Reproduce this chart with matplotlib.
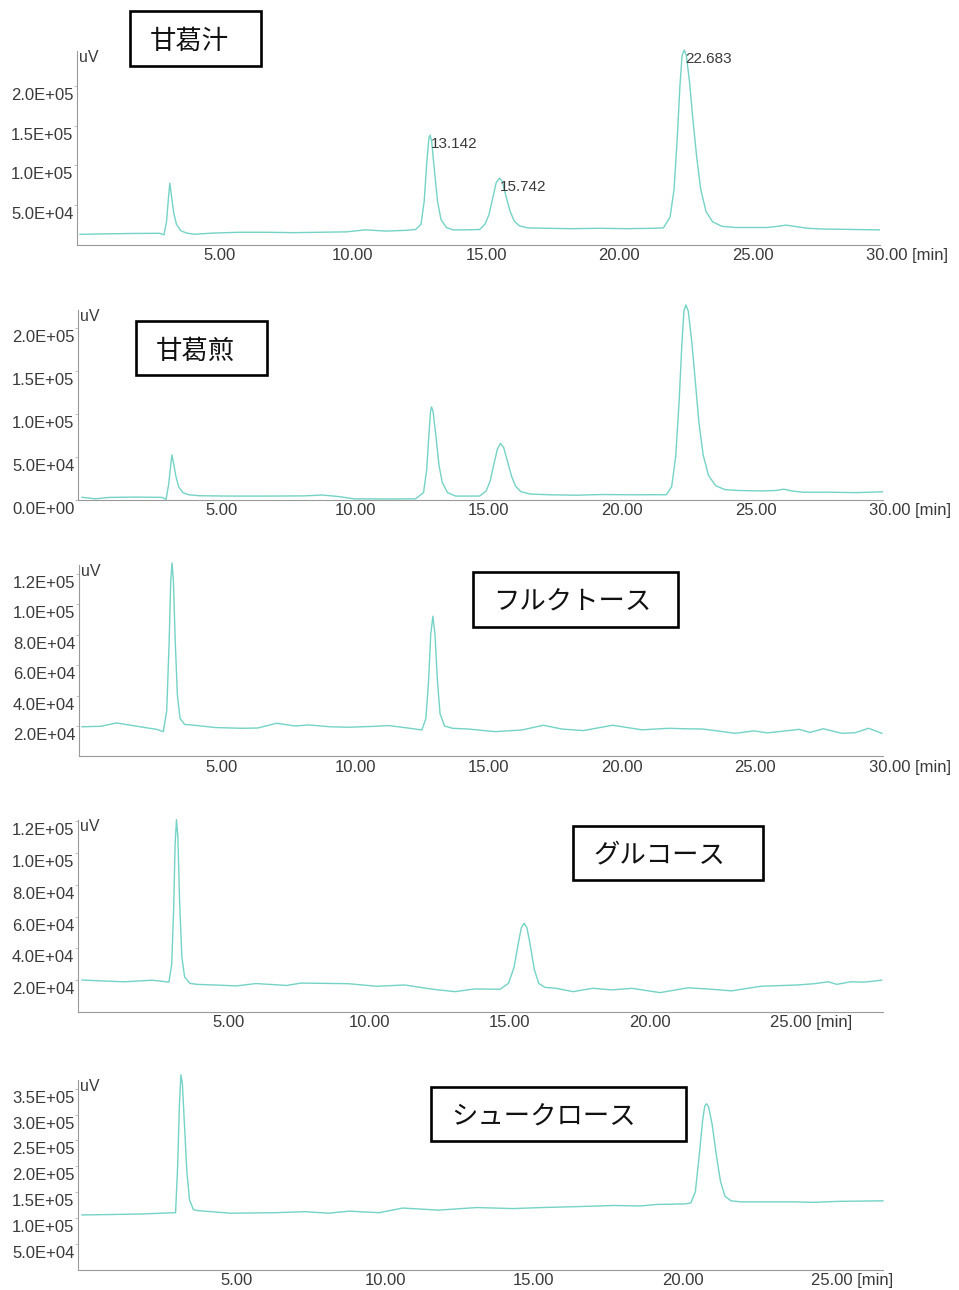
import matplotlib
matplotlib.use('Agg')
import matplotlib.pyplot as plt
from matplotlib.patches import Rectangle
from matplotlib.transforms import ScaledTranslation

plt.rcParams['font.family'] = ['Liberation Sans', 'Noto Sans CJK JP', 'DejaVu Sans']

# chromatogram traces: time [min], signal [uV]
juice_t = [0, 1.0, 2.0, 3.0, 3.15, 3.25, 3.31, 3.37, 3.44, 3.52, 3.62, 3.78, 4.0, 4.3, 5.0, 6.0, 7.0, 8.0, 9.0, 10.0,
           10.7, 11.5, 12.3, 12.6, 12.8, 12.92, 13.02, 13.1, 13.142, 13.2, 13.3, 13.42, 13.55, 13.75, 14.0, 14.5, 15.0, 15.2, 15.35, 15.5,
           15.62, 15.742, 15.85, 16.0, 16.15, 16.3, 16.5, 16.8, 17.5, 18.5, 19.5, 20.5, 21.5, 21.9, 22.15, 22.3, 22.42, 22.52, 22.6, 22.683,
           22.76, 22.88, 23.0, 23.15, 23.3, 23.5, 23.75, 24.1, 24.6, 25.3, 25.8, 26.2, 26.5, 26.8, 27.3, 28.0, 29.0, 30.0]
juice_uv = [1.34e4, 1.4e4, 1.45e4, 1.47e4, 1.26e4, 3.0e4, 5.5e4, 7.75e4, 6.0e4, 4.0e4, 2.6e4, 1.8e4, 1.5e4, 1.35e4, 1.5e4, 1.6e4, 1.6e4, 1.55e4, 1.6e4, 1.65e4,
            1.9e4, 1.75e4, 1.85e4, 1.95e4, 2.6e4, 5.5e4, 1.05e5, 1.35e5, 1.38e5, 1.3e5, 9.5e4, 5.5e4, 3.2e4, 2.2e4, 1.9e4, 1.9e4, 1.95e4, 2.6e4, 3.8e4, 6.0e4,
            7.8e4, 8.4e4, 8.0e4, 6.0e4, 4.2e4, 3.0e4, 2.4e4, 2.15e4, 2.1e4, 2.05e4, 2.1e4, 2.05e4, 2.1e4, 2.15e4, 3.5e4, 7.0e4, 1.35e5, 2.0e5, 2.38e5, 2.45e5,
            2.38e5, 2.05e5, 1.6e5, 1.1e5, 7.0e4, 4.2e4, 2.9e4, 2.35e4, 2.2e4, 2.2e4, 2.2e4, 2.35e4, 2.5e4, 2.35e4, 2.1e4, 2.0e4, 1.95e4, 1.9e4]
juice_peak_t = [13.142, 15.742, 22.683]
juice_peak_uv = [1.38e5, 8.4e4, 2.45e5]

syrup_t = [0, 0.5, 1.0, 2.0, 3.0, 3.15, 3.25, 3.31, 3.37, 3.44, 3.52, 3.62, 3.78, 4.0, 4.4, 5.5, 7.0, 8.3, 9.0, 9.6,
           10.2, 11.5, 12.5, 12.8, 12.92, 13.0, 13.06, 13.1, 13.16, 13.26, 13.38, 13.5, 13.7, 14.0, 14.9, 15.15, 15.3, 15.45, 15.57, 15.68,
           15.8, 15.95, 16.1, 16.25, 16.45, 16.8, 17.5, 18.5, 19.5, 20.5, 21.5, 21.9, 22.1, 22.25, 22.38, 22.48, 22.56, 22.63, 22.72, 22.85,
           22.98, 23.12, 23.28, 23.48, 23.75, 24.1, 24.6, 25.5, 26.0, 26.3, 26.6, 27.0, 28.0, 29.0, 30.0]
syrup_uv = [2.6e3, 0.8e3, 2.4e3, 2.8e3, 2.5e3, 0, 1.8e4, 3.6e4, 5.2e4, 4.1e4, 2.7e4, 1.5e4, 8e3, 5.5e3, 4.4e3, 4.0e3, 4.0e3, 4.2e3, 5.2e3, 3.5e3,
            0.8e3, 0.6e3, 0.8e3, 8e3, 3.5e4, 7.5e4, 1.02e5, 1.08e5, 1.02e5, 7.5e4, 4.0e4, 2.0e4, 8e3, 4e3, 4e3, 1.0e4, 2.2e4, 4.3e4, 5.9e4, 6.55e4,
            6.1e4, 4.4e4, 2.7e4, 1.55e4, 9e3, 6.4e3, 5.5e3, 5.0e3, 5.8e3, 5.5e3, 5.6e3, 5.5e3, 1.5e4, 5e4, 1.15e5, 1.8e5, 2.2e5, 2.27e5, 2.2e5, 1.85e5,
            1.4e5, 9e4, 5.2e4, 2.8e4, 1.6e4, 1.15e4, 1.05e4, 1.0e4, 1.05e4, 1.2e4, 1.0e4, 8.5e3, 8.5e3, 8e3, 9e3]

fru_t = [0, 0.7, 1.3, 2.0, 2.8, 3.05, 3.18, 3.27, 3.33, 3.38, 3.43, 3.5, 3.58, 3.68, 3.85, 4.1, 5.0, 6.0, 6.6, 7.3,
         8.0, 8.5, 9.3, 10.0, 11.0, 11.5, 12.3, 12.75, 12.9, 13.0, 13.08, 13.16, 13.24, 13.33, 13.43, 13.6, 13.9, 14.5, 15.5, 16.5,
         17.3, 18.0, 18.8, 19.9, 21.0, 22.0, 22.6, 23.3, 24.5, 25.2, 25.7, 26.3, 26.9, 27.3, 27.8, 28.5, 29.0, 29.5, 30.0]
fru_uv = [1.95e4, 1.98e4, 2.2e4, 2.0e4, 1.78e4, 1.63e4, 3.0e4, 7.5e4, 1.15e5, 1.27e5, 1.15e5, 7.5e4, 4.0e4, 2.5e4, 2.1e4, 2.07e4, 1.9e4, 1.85e4, 1.87e4, 2.18e4,
          2.0e4, 2.07e4, 1.95e4, 1.92e4, 1.98e4, 2.03e4, 1.85e4, 1.74e4, 2.5e4, 5.0e4, 8.0e4, 9.2e4, 8.0e4, 5.0e4, 2.8e4, 2.0e4, 1.85e4, 1.8e4, 1.63e4, 1.74e4,
          2.05e4, 1.8e4, 1.7e4, 2.05e4, 1.75e4, 1.85e4, 1.82e4, 1.8e4, 1.52e4, 1.68e4, 1.55e4, 1.66e4, 1.78e4, 1.58e4, 1.82e4, 1.52e4, 1.56e4, 1.85e4, 1.52e4]

glu_t = [0, 0.8, 1.5, 2.5, 3.1, 3.2, 3.27, 3.32, 3.37, 3.42, 3.48, 3.56, 3.66, 3.85, 4.1, 5.0, 5.5, 6.2, 7.3, 7.8,
         8.7, 9.5, 10.5, 11.5, 12.5, 13.3, 14.0, 14.9, 15.2, 15.4, 15.55, 15.66, 15.76, 15.86, 15.98, 16.12, 16.28, 16.5, 16.9, 17.5,
         18.2, 18.9, 19.6, 20.6, 21.6, 22.3, 23.15, 24.2, 25.5, 26.1, 26.6, 26.9, 27.4, 27.9, 28.5]
glu_uv = [2.01e4, 1.95e4, 1.9e4, 2.0e4, 1.88e4, 3.0e4, 6.5e4, 1.05e5, 1.21e5, 1.1e5, 7.0e4, 3.5e4, 2.2e4, 1.8e4, 1.74e4, 1.68e4, 1.64e4, 1.79e4, 1.67e4, 1.82e4,
          1.8e4, 1.78e4, 1.62e4, 1.7e4, 1.43e4, 1.28e4, 1.45e4, 1.43e4, 1.8e4, 2.8e4, 4.3e4, 5.3e4, 5.58e4, 5.3e4, 4.2e4, 2.7e4, 1.8e4, 1.55e4, 1.49e4, 1.28e4,
          1.49e4, 1.39e4, 1.49e4, 1.22e4, 1.52e4, 1.45e4, 1.33e4, 1.62e4, 1.7e4, 1.78e4, 1.9e4, 1.74e4, 1.9e4, 1.88e4, 2.0e4]

suc_t = [0, 1.0, 2.0, 3.1, 3.15, 3.22, 3.28, 3.33, 3.38, 3.45, 3.53, 3.62, 3.75, 3.9, 5.0, 6.5, 7.5, 8.3, 9.0, 10.0,
         10.8, 12.0, 13.3, 14.5, 15.5, 16.8, 17.9, 18.8, 19.35, 20.3, 20.5, 20.65, 20.78, 20.9, 20.97, 21.03, 21.1, 21.22, 21.35, 21.5,
         21.65, 21.85, 22.2, 23.0, 24.0, 24.6, 25.5, 26.97]
suc_uv = [1.056e5, 1.065e5, 1.075e5, 1.1e5, 1.1e5, 2.0e5, 3.2e5, 3.77e5, 3.6e5, 2.8e5, 1.9e5, 1.35e5, 1.16e5, 1.14e5, 1.09e5, 1.1e5, 1.12e5, 1.09e5, 1.13e5, 1.1e5,
          1.19e5, 1.15e5, 1.2e5, 1.18e5, 1.2e5, 1.22e5, 1.24e5, 1.23e5, 1.26e5, 1.27e5, 1.29e5, 1.5e5, 2.2e5, 2.9e5, 3.17e5, 3.21e5, 3.15e5, 2.8e5, 2.25e5, 1.7e5,
          1.42e5, 1.33e5, 1.31e5, 1.31e5, 1.31e5, 1.3e5, 1.32e5, 1.33e5]

titles = ['甘葛汁', '甘葛煎', 'フルクトース', 'グルコース', 'シュークロース']
yticks_list = [[5e4, 1e5, 1.5e5, 2e5],
               [0, 5e4, 1e5, 1.5e5, 2e5],
               [2e4, 4e4, 6e4, 8e4, 1e5, 1.2e5],
               [2e4, 4e4, 6e4, 8e4, 1e5, 1.2e5],
               [5e4, 1e5, 1.5e5, 2e5, 2.5e5, 3e5, 3.5e5]]
xticks_list = [[5, 10, 15, 20, 25, 30]] * 3 + [[5, 10, 15, 20, 25]] * 2

W, H = 959, 1290
fig = plt.figure(figsize=(W / 100, H / 100), dpi=100)

LINE = '#74d3c6'
TXT = '#3a3a3a'
AXC = '#9a9a9a'

# layout in pixels: axes (left, right, top, bottom), xlim, ylim top, title box (left, right, top, bottom)
layout = [
    ((77, 880, 51, 245), (-0.113, 30.03), 2.437e5, (130, 261, 11, 66)),
    ((78, 883, 310, 499.5), (-0.15, 30.02), 2.21e5, (136, 267, 321, 375)),
    ((79, 883, 565, 756.5), (-0.11, 30.04), 1.256e5, (473, 678, 572, 627)),
    ((78, 883, 820, 1012), (-0.14, 28.55), 1.208e5, (573, 763, 826, 880)),
    ((78, 883, 1080, 1269.5), (-0.135, 26.97), 3.67e5, (431, 686, 1087, 1141)),
]
traces = [(juice_t, juice_uv), (syrup_t, syrup_uv), (fru_t, fru_uv), (glu_t, glu_uv), (suc_t, suc_uv)]

def px(v):
    return v / 100.0

axes = []
for (t, uv), (box, xlim, ytop, tbox), title, yt, xt in zip(traces, layout, titles, yticks_list, xticks_list):
    l, r, top, bot = box
    ax = fig.add_axes([l / W, 1 - bot / H, (r - l) / W, (bot - top) / H])
    ax.plot(t, uv, color=LINE, lw=1.0, clip_on=False, solid_joinstyle='round')
    ax.set_xlim(*xlim)
    ax.set_ylim(0, ytop)
    for s in ['top', 'right']:
        ax.spines[s].set_visible(False)
    for s in ['left', 'bottom']:
        ax.spines[s].set_color(AXC)
        ax.spines[s].set_linewidth(0.8)

    ax.set_xticks(xt)
    xl = ['%.2f' % x for x in xt]
    xl[-1] += ' [min]'
    ax.set_xticklabels(xl)
    ax.set_yticks(yt)
    ax.set_yticklabels(['%.1E' % v for v in yt])
    ax.tick_params(axis='x', length=0, pad=2.5, labelsize=12, labelcolor=TXT)
    ax.tick_params(axis='y', length=2, width=0.7, color='#c0c0c0', pad=0.6, labelsize=12, labelcolor=TXT)

    xlabs = ax.get_xticklabels()
    for i, lab in enumerate(xlabs):
        if i == len(xlabs) - 1:
            lab.set_ha('left')
            off = ScaledTranslation(px(-13), 0, fig.dpi_scale_trans)
        else:
            off = ScaledTranslation(px(6.5), 0, fig.dpi_scale_trans)
        lab.set_transform(lab.get_transform() + off)
    for lab in ax.get_yticklabels():
        lab.set_transform(lab.get_transform() + ScaledTranslation(0, px(-8), fig.dpi_scale_trans))

    ax.text(0, 1, 'uV', transform=ax.transAxes + ScaledTranslation(px(2), px(1), fig.dpi_scale_trans),
            ha='left', va='top', fontsize=11.5, color=TXT)

    bl, br, bt, bb = tbox
    fig.add_artist(Rectangle((bl / W, 1 - bb / H), (br - bl) / W, (bb - bt) / H, transform=fig.transFigure,
                             fill=False, lw=1.9, ec='black'))
    fig.text((bl + 20) / W, 1 - ((bt + bb) / 2 + 3) / H, title, ha='left', va='center', fontsize=19,
             family=['Noto Sans CJK JP'], color='#111111')
    axes.append(ax)

# retention time labels on the first chromatogram
for pt, pv in zip(juice_peak_t, juice_peak_uv):
    axes[0].annotate('%.3f' % pt, xy=(pt, pv), xytext=(1, -2), textcoords='offset pixels',
                     ha='left', va='top', fontsize=11, color=TXT, annotation_clip=False)

fig.savefig('out.png', dpi=100, facecolor='white')
